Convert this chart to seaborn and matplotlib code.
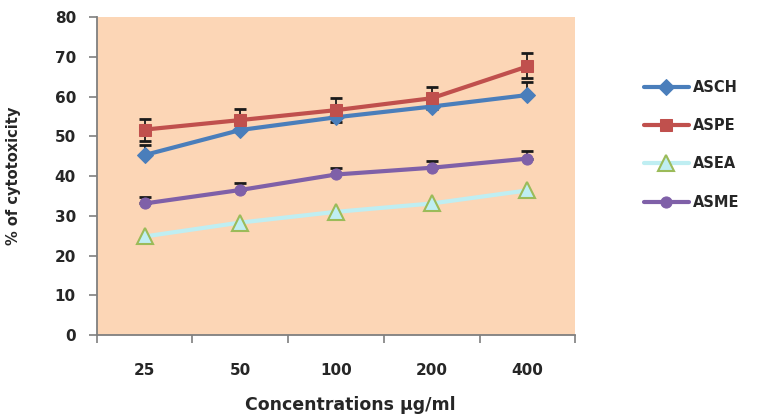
import numpy as np
import pandas as pd
import matplotlib.pyplot as plt
import seaborn as sns

# data
concentrations = ['25', '50', '100', '200', '400']
asch = [45.3, 51.6, 54.8, 57.5, 60.4]
aspe = [51.7, 54.1, 56.6, 59.6, 67.6]
asea = [24.8, 28.3, 31.0, 33.1, 36.4]
asme = [33.1, 36.5, 40.4, 42.1, 44.4]
# error bars (lower, upper)
asch_err = [[0, 0, 0, 0, 0], [2.4, 2.5, 2.6, 2.5, 3.3]]
aspe_err = [[2.9, 2.8, 3.1, 2.8, 3.0], [2.6, 2.8, 3.1, 2.8, 3.4]]
asme_err = [[0, 0, 0, 0, 0], [1.6, 1.8, 1.7, 1.8, 1.9]]

sns.set_style('white')
plt.rcParams['font.family'] = ['DejaVu Sans']
plt.rcParams['font.weight'] = 'bold'

fig = plt.figure(figsize=(7.68, 4.19), dpi=100)
ax = fig.add_axes([0.126, 0.2005, 0.623, 0.7585])
ax.set_facecolor('#fcd6b6')

pos = np.arange(len(concentrations))
series = [
    ('ASCH', asch, dict(marker='D', color='#4a7ebb', markersize=8,
                        markerfacecolor='#4a7ebb', markeredgecolor='#4a7ebb')),
    ('ASPE', aspe, dict(marker='s', color='#c0504d', markersize=8,
                        markerfacecolor='#c0504d', markeredgecolor='#c0504d')),
    ('ASEA', asea, dict(marker='^', color='#bfeef2', markersize=11,
                        markerfacecolor='#bfeef2', markeredgecolor='#9bbb59',
                        markeredgewidth=1.5)),
    ('ASME', asme, dict(marker='o', color='#7f60a8', markersize=8,
                        markerfacecolor='#7f60a8', markeredgecolor='#7f60a8')),
]

for name, vals, style in series:
    sns.lineplot(x=pos, y=vals, ax=ax, linewidth=3, label=name, zorder=3, **style)

# error bars sit behind the lines, as in the original
for vals, err in [(asch, asch_err), (aspe, aspe_err), (asme, asme_err)]:
    ax.errorbar(pos, vals, yerr=err, fmt='none', ecolor='#1a1a1a',
                elinewidth=1.3, capsize=4, capthick=2, zorder=2)

ax.set_xlim(-0.5, 4.42)
ax.set_ylim(0, 80)
ax.set_yticks(range(0, 81, 10))
ax.set_xticks(pos)
ax.set_xticklabels(concentrations)
ax.set_xticks(np.arange(-0.5, 4.6, 1), minor=True)
ax.tick_params(axis='x', which='major', bottom=True, length=0, pad=20, labelsize=11)
ax.tick_params(axis='x', which='minor', bottom=True, length=6, width=1.2,
               color='#7f7f7f', direction='out')
ax.tick_params(axis='y', left=True, length=6, width=1.2, color='#7f7f7f',
               direction='out', pad=9, labelsize=11)

for s in ['top', 'right']:
    ax.spines[s].set_visible(False)
for s in ['left', 'bottom']:
    ax.spines[s].set_color('#7f7f7f')
    ax.spines[s].set_linewidth(1.3)

ax.set_xlabel('Concentrations μg/ml', fontsize=12.5, fontweight='bold')
ax.xaxis.set_label_coords(0.529, -0.192)
ax.set_ylabel('% of cytotoxicity', fontsize=10.5, fontweight='bold', labelpad=24)

ax.legend(loc='upper left', bbox_to_anchor=(0.838, 0.81), bbox_transform=fig.transFigure,
          frameon=False, handlelength=3.1, handletextpad=0.25,
          labelspacing=1.6, borderpad=0, borderaxespad=0,
          prop={'weight': 'bold', 'size': 10.5})

fig.savefig('out.png', dpi=100)
